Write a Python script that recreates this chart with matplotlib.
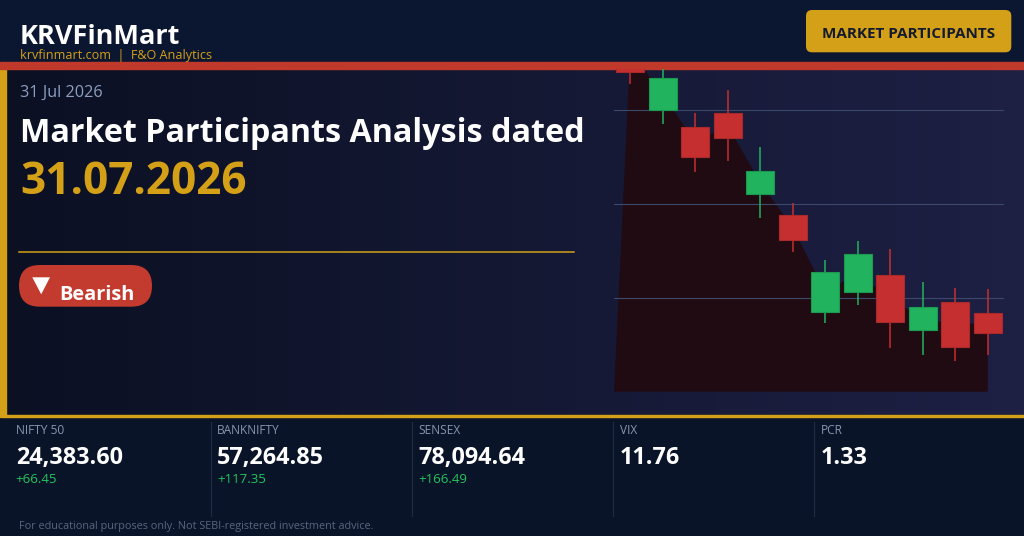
import matplotlib
matplotlib.use("Agg")
import matplotlib.pyplot as plt
import numpy as np
from matplotlib.colors import LinearSegmentedColormap
from matplotlib.patches import Rectangle, FancyBboxPatch, Polygon

plt.rcParams['font.family'] = ['Open Sans', 'DejaVu Sans']

# candle data (NIFTY intraday-ish)
opens = [24686, 24600, 24582, 24597, 24511, 24488, 24385, 24406, 24424, 24366, 24396, 24384]
highs = [24694, 24650, 24597, 24622, 24561, 24501, 24440, 24461, 24452, 24417, 24411, 24409]
lows = [24628, 24585, 24534, 24546, 24485, 24449, 24373, 24392, 24347, 24339, 24333, 24339]
closes = [24641, 24635, 24550, 24571, 24535, 24462, 24428, 24447, 24374, 24390, 24348, 24363]
grid_levels = [24400, 24500, 24600]

# bottom stats strip
stat_labels = ["NIFTY 50", "BANKNIFTY", "SENSEX", "VIX", "PCR"]
stat_values = ["24,383.60", "57,264.85", "78,094.64", "11.76", "1.33"]
stat_changes = ["+66.45", "+117.35", "+166.49", "", ""]

GOLD = "#d4a017"
RED_BAR = "#c0392b"
GREEN = "#22b35e"
RED = "#c62f2f"

W, H = 1024, 536
fig = plt.figure(figsize=(W / 100, H / 100), dpi=100)

# background axes in pixel coords (y down)
bg = fig.add_axes([0, 0, 1, 1])
bg.set_xlim(0, W)
bg.set_ylim(H, 0)
bg.axis("off")

# header
bg.add_patch(Rectangle((0, 0), W, 62, color="#0b1631", zorder=0))
# hero panel gradient
cmap = LinearSegmentedColormap.from_list("hero", ["#0b1023", "#141833", "#1e2044"])
grad = np.linspace(0, 1, 256).reshape(1, -1)
bg.imshow(grad, cmap=cmap, extent=(0, W, 415, 69), aspect="auto", zorder=0)
bg.set_xlim(0, W)
bg.set_ylim(H, 0)
# bottom strip
bg.add_patch(Rectangle((0, 415), W, H - 415, color="#0a1428", zorder=0))
bg.add_patch(Rectangle((0, 414.5), W, 2, color=GOLD, zorder=2))
# red bar and gold side bar
bg.add_patch(Rectangle((0, 61.7), W, 7.3, color=RED_BAR, zorder=3))
bg.add_patch(Rectangle((0, 69), 6, 346, color=GOLD, zorder=2))

# header texts
bg.text(20, 43.7, "KRVFinMart", color="white", fontsize=19.5, fontweight="bold", va="baseline")
bg.text(20, 59, "krvfinmart.com  |  F&O Analytics", color=GOLD, fontsize=9.1, va="baseline")
bg.add_patch(FancyBboxPatch((806, 10), 205.3, 42.3, boxstyle="round,pad=0,rounding_size=6",
                            facecolor=GOLD, edgecolor="none", zorder=2))
bg.text(908.7, 37.7, "MARKET PARTICIPANTS", color="#141a2e", fontsize=11, fontweight="bold",
        ha="center", va="baseline", zorder=3)

# hero texts
bg.text(20, 97.3, "31 Jul 2026", color="#8c9fc0", fontsize=11.7, va="baseline")
bg.text(20, 141.7, "Market Participants Analysis dated", color="white", fontsize=23.25,
        fontweight="bold", va="baseline")
bg.text(20, 194.3, "31.07.2026", color=GOLD, fontsize=31.8, fontweight="bold", va="baseline")
bg.plot([19, 574], [252.3, 252.3], color=GOLD, lw=1.1)

bg.add_patch(FancyBboxPatch((19, 265), 133, 41.7, boxstyle="round,pad=0,rounding_size=20.8",
                            facecolor="#c33a2e", edgecolor="none", zorder=2))
bg.add_patch(Polygon([(32.3, 277.3), (50, 277.3), (41.2, 294.3)], closed=True,
                     facecolor="white", edgecolor="none", zorder=3))
bg.text(59.3, 300, "Bearish", color="white", fontsize=14.4, fontweight="bold", va="baseline", zorder=3)

# stats strip
for i, (lab, val, chg) in enumerate(zip(stat_labels, stat_values, stat_changes)):
    x0 = 15.7 + 201.3 * i
    if i > 0:
        bg.plot([x0 - 6.5, x0 - 6.5], [421.7, 516], color="#1f2c46", lw=0.8)
    bg.text(x0, 434.3, lab, color="#8696b0", fontsize=8.6, va="baseline")
    bg.text(x0, 463.7, val, color="white", fontsize=16.8, fontweight="bold", va="baseline")
    if chg:
        bg.text(x0, 482.7, chg, color="#22c55e", fontsize=9.5, va="baseline")

bg.text(19, 529, "For educational purposes only. Not SEBI-registered investment advice.",
        color="#56657f", fontsize=7.85, va="baseline")

# candlestick chart
ax = fig.add_axes([614 / W, 1 - 391.7 / H, 390 / W, (391.7 - 69) / H])
ax.patch.set_visible(False)
ax.set_xlim(-0.5, 11.5)
ymin = 24300
ymax = 24400 + (297.3 - 69) / 0.935
ax.set_ylim(ymin, ymax)
ax.axis("off")

idx = np.arange(len(opens))
mids = [(o + c) / 2 for o, c in zip(opens, closes)]
ax.fill([-0.5] + list(idx) + [idx[-1]], [ymin] + mids + [ymin], color="#200b13", zorder=1, lw=0)
for g in grid_levels:
    ax.axhline(g, color="#3b4a6b", lw=0.8, zorder=2)

for i, (o, h, l, c) in enumerate(zip(opens, highs, lows, closes)):
    up = c >= o
    col = GREEN if up else RED
    edge = "#1c9a50" if up else "#a82a2a"
    ax.vlines(i, l, h, color=col, lw=1.1, zorder=3)
    ax.bar(i, abs(c - o), bottom=min(o, c), width=0.86, color=col, edgecolor=edge,
           linewidth=0.8, zorder=4)

fig.savefig("out.png", dpi=100)
